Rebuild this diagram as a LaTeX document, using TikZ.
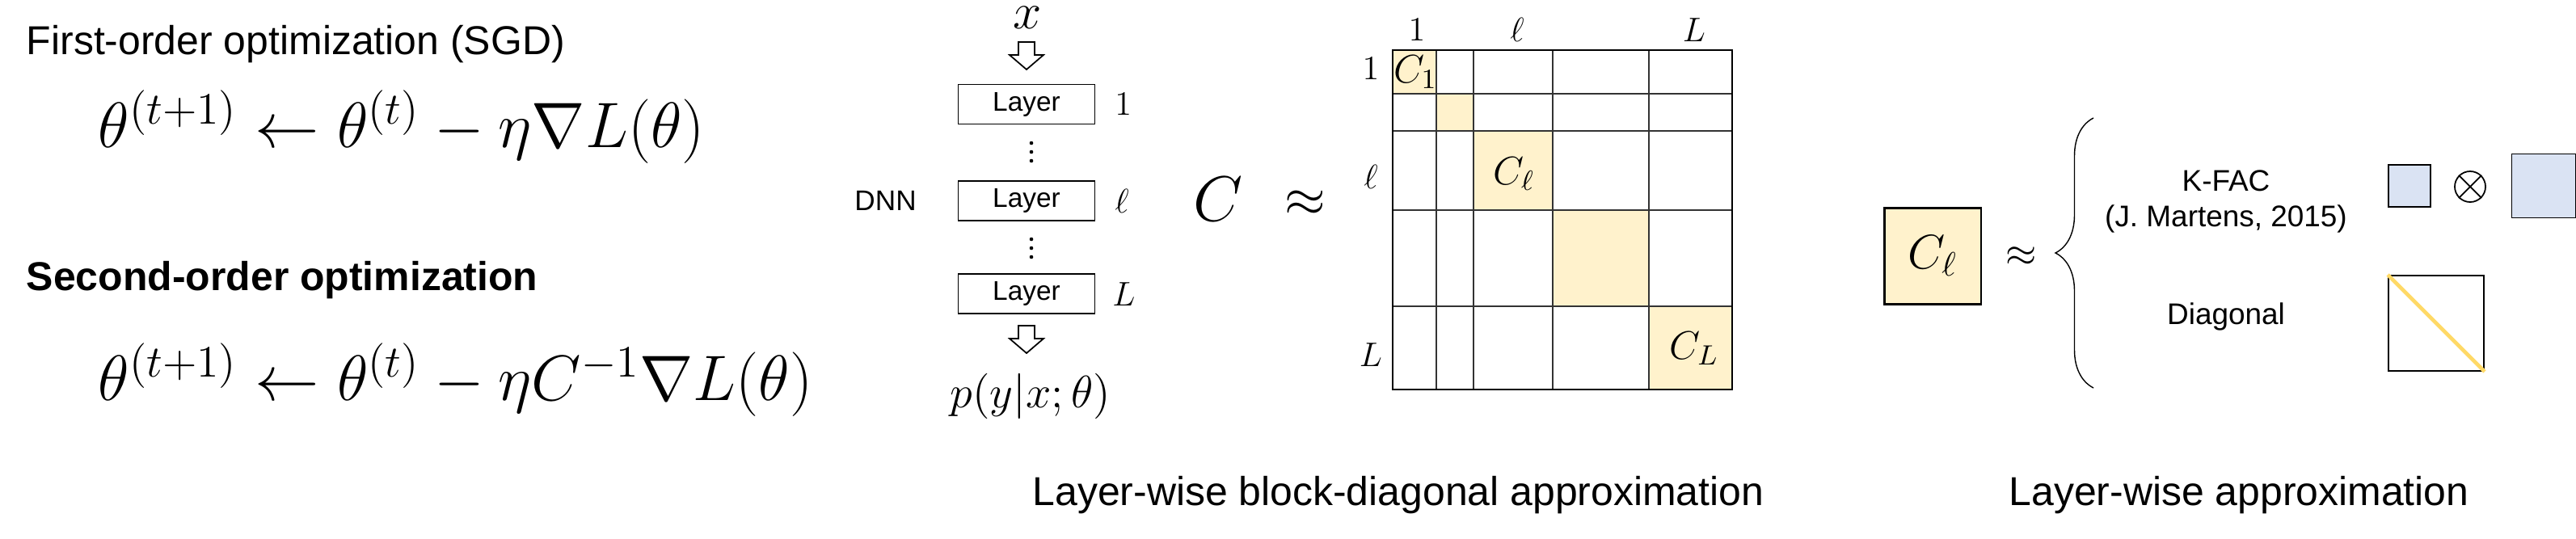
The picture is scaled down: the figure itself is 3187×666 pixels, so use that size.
\RequirePackage{fix-cm}
\documentclass[tikz,border=0pt]{standalone}
\usepackage{amsmath}
\usepackage{amssymb}
\usepackage[no-math]{fontspec}
\usepackage{tikz}
\usepackage{xcolor}
\usetikzlibrary{positioning, decorations.pathreplacing}
\newfontfamily\arialfont{Liberation Sans}
\definecolor{BlockYellow}{HTML}{FFF2CC}
\definecolor{DiagYellow}{HTML}{FFD966}
\definecolor{FactorBlue}{HTML}{DAE3F3}
\newcommand{\hollowarrow}[1]{\draw[fill=white] (#1) ++(-10,0) -- ++(20,0) -- ++(0,16) -- ++(11,0) -- ++(-21,18) -- ++(-21,-18) -- ++(11,0) -- cycle;}

\begin{document}
\begin{tikzpicture}[x=0.01cm, y=-0.01cm, line width=0.5pt,
    sanstext/.style={font=\arialfont\fontsize{14.2}{17}\selectfont, inner sep=0pt},
    formula/.style={font=\fontsize{22.6}{26}\selectfont, inner sep=0pt, anchor=base west},
    layerbox/.style={draw, minimum width=1.69cm, minimum height=0.49cm, inner sep=0pt, font=\arialfont\fontsize{9.5}{11}\selectfont},
    idxlabel/.style={font=\fontsize{12}{14}\selectfont, inner sep=0pt},
    blocklabel/.style={font=\fontsize{14}{16}\selectfont, inner sep=0pt},
    smalltext/.style={font=\arialfont\fontsize{10.5}{12}\selectfont, inner sep=0pt}]
    \useasboundingbox (0,0) rectangle (3187,666);

    % Update rules
    \node[sanstext, anchor=base west] (first) at (32,67) {First-order optimization (SGD)};
    \node[formula] (sgd) at (121,182) {$\theta^{(t+1)} \leftarrow \theta^{(t)} - \eta \nabla L(\theta)$};
    \node[sanstext, anchor=base west, font=\arialfont\bfseries\fontsize{14.2}{17}\selectfont] (second) at (32,359) {Second-order optimization};
    \node[formula] (ngd) at (121,495) {$\theta^{(t+1)} \leftarrow \theta^{(t)} - \eta C^{-1} \nabla L(\theta)$};

    % Network
    \node[font=\fontsize{18}{20}\selectfont, inner sep=0pt] (xin) at (1271,22) {$x$};
    \node[layerbox] (lay1) at (1270,129) {Layer};
    \node[layerbox, below=0.69cm of lay1] (layl) {Layer};
    \node[layerbox, below=0.64cm of layl] (layL) {Layer};
    \node[font=\fontsize{16}{18}\selectfont, inner sep=0pt] (out) at (1275,490) {$p(y|x;\theta)$};
    \hollowarrow{1270,52}
    \hollowarrow{1270,403}
    \fill (1276,177) circle (2.3) (1276,188) circle (2.3) (1276,199) circle (2.3);
    \fill (1276,296) circle (2.3) (1276,307) circle (2.3) (1276,318) circle (2.3);
    \node[idxlabel, right=0.23cm of lay1] (n1) {$1$};
    \node[idxlabel, right=0.23cm of layl] (nl) {$\ell$};
    \node[idxlabel, right=0.2cm of layL] (nL) {$L$};
    \node[font=\arialfont\fontsize{10}{12}\selectfont, inner sep=0pt, left=0.5cm of layl] (dnn) {DNN};

    % Block-diagonal matrix
    \node[font=\fontsize{22.5}{26}\selectfont, inner sep=0pt] (cfull) at (1507,246) {$C$};
    \node[font=\fontsize{18.5}{20}\selectfont, inner sep=0pt] (approx1) at (1615,252) {$\approx$};
    \fill[BlockYellow] (1723,62) rectangle (1777,116) (1777,116) rectangle (1823,162)
        (1823,162) rectangle (1921,260) (1921,260) rectangle (2040,379) (2040,379) rectangle (2143,482);
    \foreach \c/\r in {1777/116, 1823/162, 1921/260, 2040/379} {
        \draw[line width=0.4pt, black!80] (\c,62) -- (\c,482);
        \draw[line width=0.4pt, black!80] (1723,\r) -- (2143,\r);
    }
    \draw[line width=0.8pt] (1723,62) rectangle (2143,482);
    \node[blocklabel] (c1) at (1751,89) {$C_1$};
    \node[blocklabel] (cl) at (1873,215) {$C_\ell$};
    \node[blocklabel] (cL) at (2096,431) {$C_L$};
    \node[idxlabel] (col1) at (1753,37) {$1$};
    \node[idxlabel] (coll) at (1877,37) {$\ell$};
    \node[idxlabel] (colL) at (2096,37) {$L$};
    \node[idxlabel] (row1) at (1696,85) {$1$};
    \node[idxlabel] (rowl) at (1696,219) {$\ell$};
    \node[idxlabel] (rowL) at (1696,439) {$L$};

    % Layer-wise approximation
    \node[draw, fill=BlockYellow, minimum size=1.19cm, inner sep=0pt, line width=0.6pt, font=\fontsize{17}{20}\selectfont] (clbox) at (2391,317) {$C_\ell$};
    \node[font=\fontsize{14}{16}\selectfont, inner sep=0pt] (approx2) at (2501,318) {$\approx$};
    \draw[decorate, decoration={brace, amplitude=0.47cm}, line width=0.4pt] (2590,480) -- (2590,146);
    \node[smalltext] (kfac) at (2754,224) {K-FAC};
    \node[smalltext] (martens) at (2754,271) {(J. Martens, 2015)};
    \node[smalltext] (diag) at (2754,392) {Diagonal};
    \node[draw, fill=FactorBlue, minimum size=0.52cm, inner sep=0pt] (factA) at (2981,230) {};
    \node[circle, draw, minimum size=0.38cm, inner sep=0pt] (kron) at (3056,231) {};
    \draw (kron.45) -- (kron.225) (kron.135) -- (kron.315);
    \node[draw, fill=FactorBlue, minimum size=0.79cm, inner sep=0pt] (factG) at (3147,230) {};
    \node[draw, minimum size=1.18cm, inner sep=0pt] (diagbox) at (3014,400) {};
    \draw[DiagYellow, line width=1.3pt] (diagbox.north west) -- (diagbox.south east);

    % Captions
    \node[sanstext, anchor=base] (cap1) at (1730,625) {Layer-wise block-diagonal approximation};
    \node[sanstext, anchor=base] (cap2) at (2770,625) {Layer-wise approximation};
\end{tikzpicture}
\end{document}
